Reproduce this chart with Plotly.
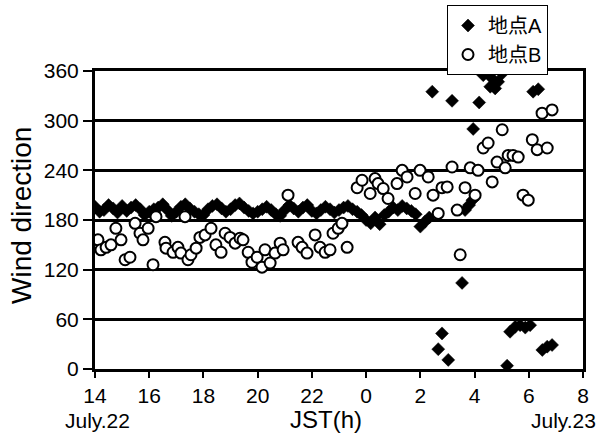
import plotly.graph_objects as go

# Series A (地点A): time in hours since 0:00 July 22 (24+ = July 23)
a_time = [14.00, 14.17, 14.33, 14.50, 14.67, 14.83, 15.00, 15.17, 15.33, 15.50,
          15.67, 15.83, 16.00, 16.17, 16.33, 16.50, 16.67, 16.83, 17.00, 17.17,
          17.33, 17.50, 17.67, 17.83, 18.00, 18.17, 18.33, 18.50, 18.67, 18.83,
          19.00, 19.17, 19.33, 19.50, 19.67, 19.83, 20.00, 20.17, 20.33, 20.50,
          20.67, 20.83, 21.00, 21.17, 21.33, 21.50, 21.67, 21.83, 22.00, 22.17,
          22.33, 22.50, 22.67, 22.83, 23.00, 23.17, 23.33, 23.50, 23.67, 23.83,
          24.00, 24.17, 24.33, 24.50, 24.67, 24.83, 25.00, 25.17, 25.33, 25.50,
          25.67, 25.83, 26.00, 26.17, 26.33,
          26.44, 26.66, 26.80, 27.03, 27.17, 27.54, 27.65, 27.80, 27.92, 27.95,
          28.17, 28.32, 28.58, 28.65, 28.76, 28.87, 29.02, 29.20, 29.31, 29.50,
          29.68, 29.87, 30.05, 30.16, 30.35, 30.50, 30.68, 30.86]
a_dir = [196, 190, 192, 198, 194, 189, 197, 191, 195, 198,
         193, 186, 190, 193, 195, 199, 192, 185, 190, 196,
         199, 194, 190, 187, 186, 193, 197, 199, 194, 190,
         193, 198, 200, 195, 191, 188, 190, 193, 196, 192,
         187, 185, 192, 198, 194, 190, 195, 198, 191, 188,
         192, 196, 193, 189, 192, 195, 197, 193, 190, 186,
         180, 176, 183, 175, 186, 190, 195, 192, 197, 194,
         191, 187, 172, 178, 183,
         335, 24, 43, 11, 324, 104, 192, 198, 204, 290,
         322, 355, 341, 351, 339, 347, 357, 4, 45, 51,
         53, 50, 53, 335, 338, 23, 27, 29]

# Series B (地点B)
b_time = [14.11, 14.22, 14.41, 14.59, 14.77, 14.96, 15.11, 15.29, 15.48, 15.66,
          15.77, 15.96, 16.14, 16.25, 16.58, 16.62, 16.88, 17.06, 17.17, 17.32,
          17.43, 17.54, 17.73, 17.87, 18.06, 18.28, 18.46, 18.65, 18.80, 18.98,
          19.17, 19.35, 19.46, 19.65, 19.79, 19.98, 20.16, 20.27, 20.46, 20.64,
          20.83, 20.94, 21.12, 21.49, 21.64, 21.82, 22.12, 22.30, 22.49, 22.67,
          22.78, 22.97, 23.11, 23.30, 23.67, 23.85, 24.15, 24.33, 24.44, 24.63,
          24.81, 25.14, 25.33, 25.51, 25.81, 25.99, 26.29, 26.47, 26.66, 26.80,
          26.99, 27.17, 27.36, 27.47, 27.65, 27.84, 28.02, 28.13, 28.32, 28.50,
          28.65, 28.83, 29.02, 29.13, 29.24, 29.42, 29.61, 29.79, 29.98, 30.13,
          30.31, 30.49, 30.68, 30.86]
b_dir = [156, 144, 147, 150, 170, 156, 132, 135, 176, 164,
         156, 170, 126, 184, 153, 146, 141, 147, 140, 184,
         132, 138, 146, 159, 162, 170, 150, 141, 164, 159,
         152, 158, 156, 141, 129, 135, 123, 144, 128, 140,
         152, 144, 210, 153, 147, 140, 162, 147, 141, 144,
         164, 170, 176, 147, 219, 228, 212, 230, 224, 218,
         206, 224, 240, 232, 212, 240, 232, 210, 188, 219,
         220, 244, 192, 138, 219, 243, 210, 240, 267, 273,
         226, 250, 289, 243, 258, 258, 256, 210, 204, 277,
         265, 309, 267, 313]

x_tickvals = [14, 16, 18, 20, 22, 24, 26, 28, 30, 32]
x_ticktext = ["14", "16", "18", "20", "22", "0", "2", "4", "6", "8"]
y_tickvals = [0, 60, 120, 180, 240, 300, 360]

FONT = "Liberation Sans, Arial, sans-serif"
CJK = "Liberation Sans, Noto Sans CJK JP, sans-serif"

W, H = 603, 443
L, R, T, B = 95, 20, 71, 74
PW, PH = W - L - R, H - T - B


def px(xp):
    return (xp - L) / PW


def py(yp):
    return (H - B - yp) / PH


fig = go.Figure()
fig.add_trace(go.Scatter(
    x=a_time, y=a_dir, mode="markers", name="地点A",
    marker=dict(symbol="diamond", size=10, color="black",
                line=dict(color="black", width=0.5)),
))
fig.add_trace(go.Scatter(
    x=b_time, y=b_dir, mode="markers", name="地点B",
    marker=dict(symbol="circle", size=11, color="white",
                line=dict(color="black", width=2)),
))

fig.update_layout(
    width=W, height=H,
    margin=dict(l=L, r=R, t=T, b=B, autoexpand=False),
    paper_bgcolor="white", plot_bgcolor="white",
    font=dict(family=FONT, color="black", size=21),
    showlegend=True,
    legend=dict(
        x=px(447), y=py(5), xanchor="left", yanchor="top",
        bgcolor="white", bordercolor="black", borderwidth=1,
        font=dict(family=CJK, size=20, color="black"),
        tracegroupgap=0,
    ),
    xaxis=dict(
        range=[14, 32], tickvals=x_tickvals, ticktext=x_ticktext,
        showgrid=False, zeroline=False, automargin=False,
        showline=True, linecolor="black", linewidth=3, mirror=True,
        ticks="outside", ticklen=6, tickwidth=2, tickcolor="black",
        tickfont=dict(family=FONT, size=21, color="black"),
    ),
    yaxis=dict(
        range=[0, 360], tickvals=y_tickvals, automargin=False,
        showgrid=True, gridcolor="black", gridwidth=2.5, zeroline=False,
        showline=True, linecolor="black", linewidth=3, mirror=True,
        ticks="outside", ticklen=9, tickwidth=2, tickcolor="black",
        tickfont=dict(family=FONT, size=21, color="black"),
    ),
    annotations=[
        dict(text="Wind direction", xref="paper", yref="paper", x=px(21), y=py(216),
             xanchor="center", yanchor="middle", textangle=-90, showarrow=False,
             font=dict(family=FONT, size=28, color="black")),
        dict(text="July.22", xref="paper", yref="paper", x=px(97), y=py(420),
             xanchor="center", yanchor="middle", showarrow=False,
             font=dict(family=FONT, size=21, color="black")),
        dict(text="July.23", xref="paper", yref="paper", x=px(563), y=py(420),
             xanchor="center", yanchor="middle", showarrow=False,
             font=dict(family=FONT, size=21, color="black")),
        dict(text="JST(h)", xref="paper", yref="paper", x=px(326), y=py(419),
             xanchor="center", yanchor="middle", showarrow=False,
             font=dict(family=FONT, size=24, color="black")),
    ],
)

fig.write_html(
    "out.html",
    config={"displayModeBar": False},
    post_script="document.body.style.margin='0px';document.body.style.overflow='hidden';",
)
